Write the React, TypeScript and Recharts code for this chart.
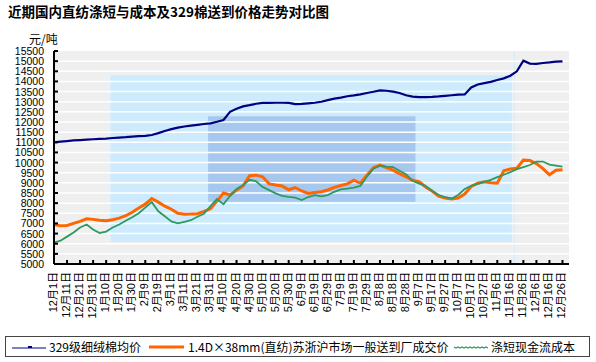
import React from "react";
import { LineChart, Line, XAxis, YAxis, ReferenceArea, ReferenceLine } from "recharts";

const sampleDays = [
  0, 5, 10, 15, 20, 25, 30, 35, 40, 45,
  50, 55, 60, 65, 70, 75, 80, 85, 90, 95,
  100, 105, 110, 115, 120, 125, 130, 135, 140, 145,
  150, 155, 160, 165, 170, 175, 180, 185, 190, 195,
  200, 205, 210, 215, 220, 225, 230, 235, 240, 245,
  250, 255, 260, 265, 270, 275, 280, 285, 290, 295,
  300, 305, 310, 315, 320, 325, 330, 335, 340, 345,
  350, 355, 360, 365, 370, 375, 380, 385, 390,
];

const cottonPrice = [
  11000, 11030, 11060, 11090, 11110, 11130, 11150, 11170, 11185, 11210,
  11230, 11250, 11280, 11300, 11320, 11360, 11450, 11560, 11650, 11720,
  11780, 11820, 11860, 11900, 11930, 12010, 12100, 12500, 12650, 12770,
  12830, 12900, 12940, 12940, 12950, 12950, 12940, 12880, 12890, 12920,
  12950, 13000, 13080, 13150, 13200, 13270, 13310, 13360, 13430, 13490,
  13560, 13540, 13500, 13430, 13320, 13250, 13230, 13230, 13240, 13260,
  13290, 13320, 13350, 13360, 13700, 13850, 13920, 13980, 14070, 14150,
  14280, 14500, 15020, 14880, 14870, 14910, 14940, 14980, 14990,
];

const polyPrice = [
  6950, 6880, 6900, 7000, 7100, 7230, 7200, 7160, 7130, 7180,
  7260, 7380, 7550, 7760, 7950, 8230, 8050, 7850, 7700, 7500,
  7450, 7460, 7480, 7590, 7720, 8100, 8500, 8400, 8640, 8850,
  9350, 9380, 9300, 8950, 8890, 8850, 8660, 8770, 8600, 8480,
  8520, 8560, 8650, 8780, 8870, 8950, 9130, 8980, 9380, 9750,
  9880, 9750, 9630, 9450, 9300, 9130, 9060, 8800, 8600, 8350,
  8250, 8200, 8250, 8450, 8820, 8980, 9050, 9000, 8980, 9600,
  9680, 9720, 10120, 10100, 9950, 9700, 9400, 9620, 9650,
];

const polyCost = [
  6050, 6150, 6350, 6550, 6800, 6950, 6700, 6530, 6600, 6800,
  6950, 7130, 7300, 7500, 7780, 8050, 7600, 7350, 7100, 7000,
  7080, 7160, 7330, 7480, 7850, 8200, 7950, 8350, 8700, 8890,
  9150, 9080, 8800, 8640, 8480, 8360, 8310, 8270, 8150, 8300,
  8390, 8330, 8400, 8560, 8680, 8720, 8760, 8850, 9300, 9700,
  9850, 9800, 9780, 9600, 9420, 9100, 8960, 8850, 8600, 8400,
  8300, 8230, 8400, 8700, 8850, 8950, 9050, 9150, 9280, 9400,
  9530, 9680, 9780, 9880, 10050, 10050, 9900, 9850, 9800,
];

const xTickLabels = [
  "12月1日", "12月11日", "12月21日", "12月31日", "1月10日", "1月20日", "1月30日", "2月9日", "2月19日", "3月1日",
  "3月11日", "3月21日", "3月31日", "4月10日", "4月20日", "4月30日", "5月10日", "5月20日", "5月30日", "6月9日",
  "6月19日", "6月29日", "7月9日", "7月19日", "7月29日", "8月8日", "8月18日", "8月28日", "9月7日", "9月17日",
  "9月27日", "10月7日", "10月17日", "10月27日", "11月6日", "11月16日", "11月26日", "12月6日", "12月16日", "12月26日",
];

const yTicks = [
  5000, 5500, 6000, 6500, 7000, 7500, 8000, 8500, 9000, 9500, 10000,
  10500, 11000, 11500, 12000, 12500, 13000, 13500, 14000, 14500, 15000, 15500,
];

const seriesNames = ["329级细绒棉均价", "1.4D×38mm(直纺)苏浙沪市场一般送到厂成交价", "涤短现金流成本"];

const data = sampleDays.map((d, i) => ({
  day: d,
  cotton: cottonPrice[i],
  poly: polyPrice[i],
  cost: polyCost[i],
}));

const xTicks = xTickLabels.map((_, i) => i * 10);

const FONT = '"Liberation Sans", "Noto Sans CJK SC", sans-serif';

const XTick = (props: any) => {
  const { x, y, payload } = props;
  const label = xTickLabels[Math.round(payload.value / 10)];
  return (
    <g>
      <line x1={x} x2={x} y1={y - 8} y2={y - 12} stroke="#000" strokeWidth={2} />
      <text
        x={x - 1}
        y={y}
        transform={`rotate(-90 ${x - 1} ${y})`}
        textAnchor="end"
        dominantBaseline="central"
        fontSize={11}
        fill="#000"
        fontFamily={FONT}
      >
        {label}
      </text>
    </g>
  );
};

const YTick = (props: any) => {
  const { x, y, payload } = props;
  return (
    <g>
      <line x1={x + 10} x2={x + 14} y1={y} y2={y} stroke="#000" strokeWidth={2} />
      <text x={x} y={y} textAnchor="end" dominantBaseline="central" fontSize={10.5} fill="#000" fontFamily={FONT}>
        {payload.value}
      </text>
    </g>
  );
};

export default function App() {
  return (
    <div style={{ position: "absolute", left: 0, top: 0, width: 596, height: 362, background: "#fff", fontFamily: FONT }}>
      <LineChart width={596} height={362} data={data} margin={{ top: 51, right: 27, left: 0, bottom: 0 }}>
        <XAxis
          dataKey="day"
          type="number"
          domain={[0, 395]}
          ticks={xTicks}
          interval={0}
          height={98}
          tickSize={0}
          tickMargin={8}
          tick={<XTick />}
          axisLine={{ stroke: "#000", strokeWidth: 2 }}
          tickLine={false}
        />
        <YAxis
          type="number"
          domain={[5000, 15500]}
          ticks={yTicks}
          interval={0}
          width={54}
          tickSize={0}
          tickMargin={10}
          tick={<YTick />}
          axisLine={{ stroke: "#000", strokeWidth: 2 }}
          tickLine={false}
        />
        <ReferenceArea x1={0} x2={395} y1={5000} y2={15500} fill="#efefef" fillOpacity={1} stroke="none" />
        <ReferenceArea x1={41.6} x2={43.4} y1={6083} y2={14300} fill="#e2f3fd" fillOpacity={1} stroke="none" />
        <ReferenceArea x1={43.4} x2={351.2} y1={6083} y2={14300} fill="#cdebfc" fillOpacity={1} stroke="none" />
        <ReferenceArea x1={352.6} x2={353.6} y1={5000} y2={15500} fill="#d6ecfa" fillOpacity={1} stroke="none" />
        <ReferenceArea x1={118.2} x2={277.2} y1={8066} y2={12283} fill="#a6c8ef" fillOpacity={1} stroke="none" />
        {yTicks.slice(1, -1).map((v) => (
          <ReferenceLine key={v} y={v} stroke="#ffffff" strokeWidth={1.5} />
        ))}
        <Line type="linear" dataKey="cotton" name={seriesNames[0]} stroke="#000080" strokeWidth={2.2} dot={false} isAnimationActive={false} />
        <Line type="linear" dataKey="poly" name={seriesNames[1]} stroke="#ff6600" strokeWidth={3} dot={false} isAnimationActive={false} />
        <Line type="linear" dataKey="cost" name={seriesNames[2]} stroke="#2e9960" strokeWidth={1.8} dot={false} isAnimationActive={false} />
      </LineChart>

      <div style={{ position: "absolute", left: 8, top: 3, fontSize: 13.5, fontWeight: "bold", lineHeight: "17px", fontFamily: '"Noto Sans CJK SC", sans-serif', color: "#000", whiteSpace: "nowrap" }}>
        近期国内直纺涤短与成本及329棉送到价格走势对比图
      </div>
      <div style={{ position: "absolute", left: 29, top: 32, fontSize: 12, lineHeight: "14px", fontFamily: '"Noto Sans CJK SC", sans-serif', color: "#000" }}>
        元/吨
      </div>

      <div style={{ position: "absolute", left: 5, top: 336, width: 585, height: 21, border: "1px solid #444", boxSizing: "border-box", fontSize: 12, color: "#000", fontFamily: '"Noto Sans CJK SC", sans-serif' }}>
        <svg style={{ position: "absolute", left: 6, top: 4 }} width={34} height={12}>
          <line x1={0} x2={34} y1={7} y2={7} stroke="#000080" strokeWidth={1} />
          <rect x={16} y={5} width={4} height={2} fill="#000080" />
        </svg>
        <span style={{ position: "absolute", left: 43, top: 1, lineHeight: "17px", whiteSpace: "nowrap" }}>{seriesNames[0]}</span>
        <svg style={{ position: "absolute", left: 143, top: 4 }} width={35} height={12}>
          <line x1={0} x2={35} y1={6} y2={6} stroke="#ff6600" strokeWidth={3} />
        </svg>
        <span style={{ position: "absolute", left: 182, top: 1, lineHeight: "17px", whiteSpace: "nowrap" }}>{seriesNames[1]}</span>
        <svg style={{ position: "absolute", left: 448, top: 4 }} width={34} height={12}>
          <path d="M0 6 L2 7 L4 6 L6 7 L8 6 L10 7 L12 6 L14 7 L16 6 L18 7 L20 6 L22 7 L24 6 L26 7 L28 6 L30 7 L32 6 L34 7" stroke="#2e9960" strokeWidth={1.2} fill="none" />
        </svg>
        <span style={{ position: "absolute", left: 485, top: 1, lineHeight: "17px", whiteSpace: "nowrap" }}>{seriesNames[2]}</span>
      </div>
    </div>
  );
}
